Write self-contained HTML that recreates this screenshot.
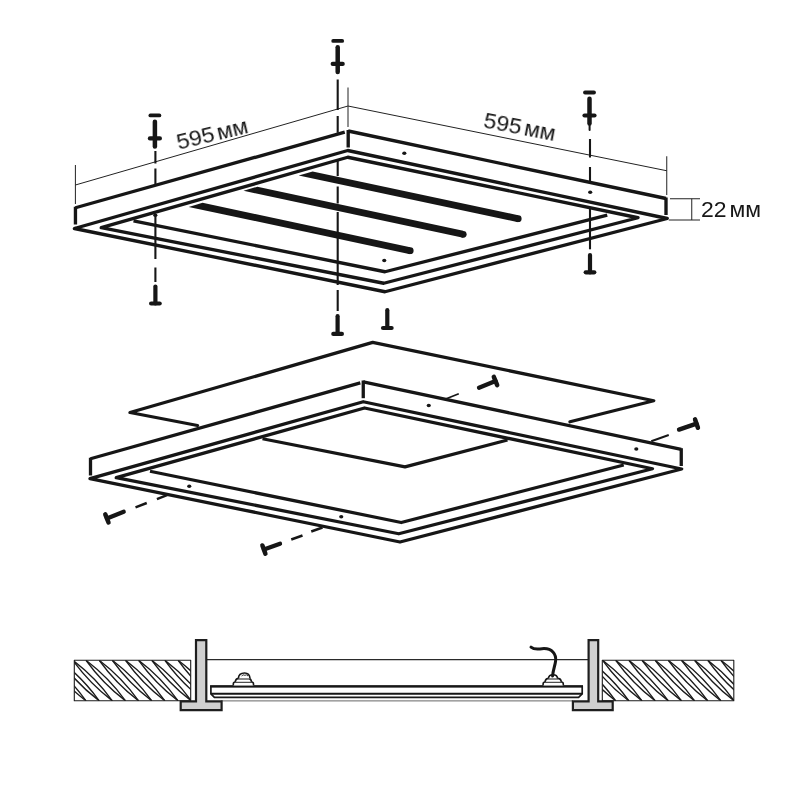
<!DOCTYPE html>
<html><head><meta charset="utf-8"><title>Panel mounting diagram</title>
<style>html,body{margin:0;padding:0;background:#fff;width:800px;height:800px;overflow:hidden}svg{display:block}</style>
</head><body>
<svg width="800" height="800" viewBox="0 0 800 800">
<rect width="800" height="800" fill="#fff"/>
<line x1="75.4" y1="165" x2="75.4" y2="204" stroke="#222" stroke-width="1.0" stroke-linecap="butt" />
<line x1="75.4" y1="185" x2="348" y2="106" stroke="#222" stroke-width="1.0" stroke-linecap="butt" />
<line x1="348" y1="87.5" x2="348" y2="127" stroke="#222" stroke-width="1.0" stroke-linecap="butt" />
<line x1="348" y1="106" x2="666.75" y2="170.75" stroke="#222" stroke-width="1.0" stroke-linecap="butt" />
<line x1="666.75" y1="156.25" x2="666.75" y2="195" stroke="#222" stroke-width="1.0" stroke-linecap="butt" />
<line x1="670" y1="198.75" x2="700" y2="198.75" stroke="#222" stroke-width="1.0" stroke-linecap="butt" />
<line x1="668.75" y1="220" x2="700" y2="220" stroke="#222" stroke-width="1.0" stroke-linecap="butt" />
<line x1="691.75" y1="198.75" x2="691.75" y2="220" stroke="#222" stroke-width="1.0" stroke-linecap="butt" />
<path d="M75.45,207.75 L344.75,132.2" fill="none" stroke="#161616" stroke-width="3.35" stroke-linejoin="round" stroke-linecap="butt" />
<path d="M75.45,206.75 L75.45,224.5" fill="none" stroke="#161616" stroke-width="3.35" stroke-linejoin="round" stroke-linecap="butt" />
<path d="M348.2,130 L348.2,147.5" fill="none" stroke="#161616" stroke-width="3.35" stroke-linejoin="round" stroke-linecap="butt" />
<path d="M348.2,131 L666,198.5" fill="none" stroke="#161616" stroke-width="3.35" stroke-linejoin="round" stroke-linecap="butt" />
<path d="M666,197.5 L666,215" fill="none" stroke="#161616" stroke-width="3.35" stroke-linejoin="round" stroke-linecap="butt" />
<path d="M74.4,228.5 L347.75,150.5 L667.25,218.5 L385,291.75 Z" fill="none" stroke="#161616" stroke-width="3.35" stroke-linejoin="round" stroke-linecap="butt" />
<path d="M101.25,227.7 L347.75,157.25 L638,217.75 L383.75,283.25 Z" fill="none" stroke="#161616" stroke-width="3.35" stroke-linejoin="round" stroke-linecap="butt" />
<path d="M133.5,220.8 L385,271.75 L607.25,215.2" fill="none" stroke="#161616" stroke-width="3.35" stroke-linejoin="round" stroke-linecap="butt" />
<path d="M298.70,175.60 L312.64,171.56 L518.20,215.19 L518.20,222.19 Z" fill="#161616"/>
<circle cx="518.20" cy="218.69" r="3.42" fill="#161616"/>
<path d="M243.50,190.70 L257.38,186.68 L463.20,230.80 L463.20,237.80 Z" fill="#161616"/>
<circle cx="463.20" cy="234.30" r="3.42" fill="#161616"/>
<path d="M188.70,206.90 L202.60,202.87 L410.20,247.20 L410.20,254.20 Z" fill="#161616"/>
<circle cx="410.20" cy="250.70" r="3.42" fill="#161616"/>
<ellipse cx="404.3" cy="153.2" rx="2.1" ry="1.75" fill="#161616"/>
<ellipse cx="590.2" cy="192.3" rx="2.1" ry="1.75" fill="#161616"/>
<ellipse cx="384.25" cy="260.5" rx="2.1" ry="1.75" fill="#161616"/>
<ellipse cx="155.3" cy="215.2" rx="2.1" ry="1.75" fill="#161616"/>
<line x1="155.4" y1="151" x2="155.4" y2="163.5" stroke="#161616" stroke-width="2.1" stroke-linecap="butt" />
<line x1="155.4" y1="168.5" x2="155.4" y2="185.5" stroke="#161616" stroke-width="2.1" stroke-linecap="butt" />
<line x1="155.4" y1="216" x2="155.4" y2="259" stroke="#161616" stroke-width="2.1" stroke-linecap="butt" />
<line x1="155.4" y1="267.5" x2="155.4" y2="282" stroke="#161616" stroke-width="2.1" stroke-linecap="butt" />
<line x1="337.7" y1="79.5" x2="337.7" y2="110" stroke="#161616" stroke-width="2.1" stroke-linecap="butt" />
<line x1="337.7" y1="116" x2="337.7" y2="132.8" stroke="#161616" stroke-width="2.1" stroke-linecap="butt" />
<line x1="337.7" y1="161" x2="337.7" y2="176" stroke="#161616" stroke-width="2.1" stroke-linecap="butt" />
<line x1="337.7" y1="186.5" x2="337.7" y2="203.5" stroke="#161616" stroke-width="2.1" stroke-linecap="butt" />
<line x1="337.7" y1="212" x2="337.7" y2="285" stroke="#161616" stroke-width="2.1" stroke-linecap="butt" />
<line x1="337.7" y1="290" x2="337.7" y2="311" stroke="#161616" stroke-width="2.1" stroke-linecap="butt" />
<line x1="590" y1="139" x2="590" y2="157.5" stroke="#161616" stroke-width="2.1" stroke-linecap="butt" />
<line x1="590" y1="167" x2="590" y2="182.4" stroke="#161616" stroke-width="2.1" stroke-linecap="butt" />
<line x1="590" y1="207.5" x2="590" y2="249.3" stroke="#161616" stroke-width="2.1" stroke-linecap="butt" />
<line x1="333.2" y1="40.9" x2="342.2" y2="40.9" stroke="#161616" stroke-width="3.8" stroke-linecap="round" />
<line x1="337.7" y1="47.199999999999996" x2="337.7" y2="71.9" stroke="#161616" stroke-width="4.5" stroke-linecap="round" />
<line x1="332.7" y1="63.9" x2="342.7" y2="63.9" stroke="#161616" stroke-width="4.2" stroke-linecap="round" />
<line x1="150.4" y1="115.4" x2="159.4" y2="115.4" stroke="#161616" stroke-width="3.8" stroke-linecap="round" />
<line x1="154.9" y1="121.7" x2="154.9" y2="146.4" stroke="#161616" stroke-width="4.5" stroke-linecap="round" />
<line x1="149.9" y1="138.4" x2="159.9" y2="138.4" stroke="#161616" stroke-width="4.2" stroke-linecap="round" />
<line x1="585.0" y1="92.5" x2="594.0" y2="92.5" stroke="#161616" stroke-width="3.8" stroke-linecap="round" />
<line x1="589.5" y1="98.8" x2="589.5" y2="123.5" stroke="#161616" stroke-width="4.5" stroke-linecap="round" />
<line x1="584.5" y1="115.5" x2="594.5" y2="115.5" stroke="#161616" stroke-width="4.2" stroke-linecap="round" />
<line x1="589.6" y1="124" x2="589.6" y2="130" stroke="#161616" stroke-width="2.0" stroke-linecap="round" />
<line x1="337.6" y1="316.2" x2="337.6" y2="333.9" stroke="#161616" stroke-width="4.2" stroke-linecap="round" />
<line x1="333.3" y1="333.9" x2="341.90000000000003" y2="333.9" stroke="#161616" stroke-width="4.2" stroke-linecap="round" />
<line x1="387.3" y1="310.2" x2="387.3" y2="328" stroke="#161616" stroke-width="4.2" stroke-linecap="round" />
<line x1="383.0" y1="328" x2="391.6" y2="328" stroke="#161616" stroke-width="4.2" stroke-linecap="round" />
<line x1="155.4" y1="286.5" x2="155.4" y2="303.5" stroke="#161616" stroke-width="4.2" stroke-linecap="round" />
<line x1="151.1" y1="303.5" x2="159.70000000000002" y2="303.5" stroke="#161616" stroke-width="4.2" stroke-linecap="round" />
<line x1="590" y1="255" x2="590" y2="272.3" stroke="#161616" stroke-width="4.2" stroke-linecap="round" />
<line x1="585.7" y1="272.3" x2="594.3" y2="272.3" stroke="#161616" stroke-width="4.2" stroke-linecap="round" />
<path d="M197.5,425.5 L130,412.5 L372.7,342.4 L653.75,400.75 L570,421.75" fill="none" stroke="#161616" stroke-width="3.3" stroke-linejoin="round" stroke-linecap="round" />
<path d="M262.5,438.75 L405,466.9 L507.5,440" fill="none" stroke="#161616" stroke-width="3.3" stroke-linejoin="round" stroke-linecap="butt" />
<path d="M90.5,458.75 L360.3,382.9" fill="none" stroke="#161616" stroke-width="3.3" stroke-linejoin="round" stroke-linecap="butt" />
<path d="M90.5,457.75 L90.5,475.5" fill="none" stroke="#161616" stroke-width="3.3" stroke-linejoin="round" stroke-linecap="butt" />
<path d="M363.25,380.5 L363.25,398.2" fill="none" stroke="#161616" stroke-width="3.3" stroke-linejoin="round" stroke-linecap="butt" />
<path d="M363.25,381.8 L681.25,449.4" fill="none" stroke="#161616" stroke-width="3.3" stroke-linejoin="round" stroke-linecap="butt" />
<path d="M681.25,448.2 L681.25,466" fill="none" stroke="#161616" stroke-width="3.3" stroke-linejoin="round" stroke-linecap="butt" />
<path d="M90,478.6 L363.25,401.75 L681.7,469 L400,542 Z" fill="none" stroke="#161616" stroke-width="3.3" stroke-linejoin="round" stroke-linecap="butt" />
<path d="M116.25,477.7 L364.5,408 L652.5,468.75 L398.75,533.75 Z" fill="none" stroke="#161616" stroke-width="3.3" stroke-linejoin="round" stroke-linecap="butt" />
<path d="M150,471.25 L401.25,522.5 L623.75,465" fill="none" stroke="#161616" stroke-width="3.3" stroke-linejoin="round" stroke-linecap="butt" />
<ellipse cx="189.25" cy="486.25" rx="2.1" ry="1.75" fill="#161616"/>
<ellipse cx="341.25" cy="516.75" rx="2.1" ry="1.75" fill="#161616"/>
<ellipse cx="428.75" cy="405.5" rx="2.1" ry="1.75" fill="#161616"/>
<ellipse cx="636.3" cy="449" rx="2.1" ry="1.75" fill="#161616"/>
<line x1="106.9" y1="518.4" x2="123.7" y2="511.8" stroke="#161616" stroke-width="4.3" stroke-linecap="round" />
<line x1="105.29112956133883" y1="514.3046934288625" x2="108.50887043866118" y2="522.4953065711375" stroke="#161616" stroke-width="4.5" stroke-linecap="round" />
<line x1="135.5" y1="507.3" x2="146.75" y2="503" stroke="#161616" stroke-width="2.5" stroke-linecap="butt" />
<line x1="156.9" y1="499.1" x2="167" y2="495.1" stroke="#161616" stroke-width="2.5" stroke-linecap="butt" />
<line x1="263.9" y1="549.6" x2="280" y2="543.8" stroke="#161616" stroke-width="4.3" stroke-linecap="round" />
<line x1="262.40872390620916" y1="545.4604232568911" x2="265.3912760937908" y2="553.739576743109" stroke="#161616" stroke-width="4.5" stroke-linecap="round" />
<line x1="291.25" y1="539.5" x2="302.5" y2="535.5" stroke="#161616" stroke-width="2.5" stroke-linecap="butt" />
<line x1="311.25" y1="531.5" x2="322.5" y2="527.5" stroke="#161616" stroke-width="2.5" stroke-linecap="butt" />
<line x1="495.5" y1="381" x2="479" y2="387.8" stroke="#161616" stroke-width="4.3" stroke-linecap="round" />
<line x1="497.176539109026" y1="385.0680728380778" x2="493.823460890974" y2="376.9319271619222" stroke="#161616" stroke-width="4.5" stroke-linecap="round" />
<line x1="446.25" y1="398.75" x2="458.75" y2="393.75" stroke="#161616" stroke-width="1.7" stroke-linecap="butt" />
<line x1="696.5" y1="423.6" x2="679" y2="429.6" stroke="#161616" stroke-width="4.3" stroke-linecap="round" />
<line x1="697.9270270270271" y1="427.7621621621622" x2="695.0729729729729" y2="419.43783783783783" stroke="#161616" stroke-width="4.5" stroke-linecap="round" />
<line x1="651.25" y1="441.25" x2="668.75" y2="435" stroke="#161616" stroke-width="1.9" stroke-linecap="butt" />
<g opacity="0.995">
<text x="0" y="0" font-family="Liberation Sans, sans-serif" font-size="21.5" fill="#161616" word-spacing="-3.2" transform="translate(178.6 149.8) rotate(-13.6) scale(1.07 1)">595 мм</text>
<text x="0" y="0" font-family="Liberation Sans, sans-serif" font-size="21.5" fill="#161616" word-spacing="-3.2" transform="translate(482.6 127.3) rotate(10.9) scale(1.07 1)">595 мм</text>
<text x="0" y="0" font-family="Liberation Sans, sans-serif" font-size="21.5" fill="#161616" word-spacing="-3.2" transform="translate(700.9 217.1) rotate(0) scale(1.07 1)">22 мм</text>
</g>
<line x1="206" y1="659.7" x2="589" y2="659.7" stroke="#2a2a2a" stroke-width="1.3" stroke-linecap="butt" />
<line x1="221" y1="700.9" x2="573" y2="700.9" stroke="#666" stroke-width="1.0" stroke-linecap="butt" />
<clipPath id="cL"><rect x="74.3" y="660.3" width="116.39999999999999" height="40.5"/></clipPath>
<g clip-path="url(#cL)">
<path d="M7.1,660.3 Q29.8,677.6 46.5,700.8" fill="none" stroke="#1c1c1c" stroke-width="1.4" stroke-linejoin="round" stroke-linecap="butt" />
<path d="M7.1,660.3 Q23.8,683.5 46.5,700.8" fill="none" stroke="#1c1c1c" stroke-width="1.4" stroke-linejoin="round" stroke-linecap="butt" />
<path d="M20.2,660.3 Q43.0,677.6 59.7,700.8" fill="none" stroke="#1c1c1c" stroke-width="1.4" stroke-linejoin="round" stroke-linecap="butt" />
<path d="M20.2,660.3 Q37.0,683.5 59.7,700.8" fill="none" stroke="#1c1c1c" stroke-width="1.4" stroke-linejoin="round" stroke-linecap="butt" />
<path d="M33.4,660.3 Q56.1,677.6 72.8,700.8" fill="none" stroke="#1c1c1c" stroke-width="1.4" stroke-linejoin="round" stroke-linecap="butt" />
<path d="M33.4,660.3 Q50.1,683.5 72.8,700.8" fill="none" stroke="#1c1c1c" stroke-width="1.4" stroke-linejoin="round" stroke-linecap="butt" />
<path d="M46.5,660.3 Q69.3,677.6 86.0,700.8" fill="none" stroke="#1c1c1c" stroke-width="1.4" stroke-linejoin="round" stroke-linecap="butt" />
<path d="M46.5,660.3 Q63.3,683.5 86.0,700.8" fill="none" stroke="#1c1c1c" stroke-width="1.4" stroke-linejoin="round" stroke-linecap="butt" />
<path d="M59.7,660.3 Q82.4,677.6 99.2,700.8" fill="none" stroke="#1c1c1c" stroke-width="1.4" stroke-linejoin="round" stroke-linecap="butt" />
<path d="M59.7,660.3 Q76.4,683.5 99.2,700.8" fill="none" stroke="#1c1c1c" stroke-width="1.4" stroke-linejoin="round" stroke-linecap="butt" />
<path d="M72.8,660.3 Q95.6,677.6 112.3,700.8" fill="none" stroke="#1c1c1c" stroke-width="1.4" stroke-linejoin="round" stroke-linecap="butt" />
<path d="M72.8,660.3 Q89.6,683.5 112.3,700.8" fill="none" stroke="#1c1c1c" stroke-width="1.4" stroke-linejoin="round" stroke-linecap="butt" />
<path d="M86.0,660.3 Q108.7,677.6 125.5,700.8" fill="none" stroke="#1c1c1c" stroke-width="1.4" stroke-linejoin="round" stroke-linecap="butt" />
<path d="M86.0,660.3 Q102.7,683.5 125.5,700.8" fill="none" stroke="#1c1c1c" stroke-width="1.4" stroke-linejoin="round" stroke-linecap="butt" />
<path d="M99.2,660.3 Q121.9,677.6 138.6,700.8" fill="none" stroke="#1c1c1c" stroke-width="1.4" stroke-linejoin="round" stroke-linecap="butt" />
<path d="M99.2,660.3 Q115.9,683.5 138.6,700.8" fill="none" stroke="#1c1c1c" stroke-width="1.4" stroke-linejoin="round" stroke-linecap="butt" />
<path d="M112.3,660.3 Q135.0,677.6 151.8,700.8" fill="none" stroke="#1c1c1c" stroke-width="1.4" stroke-linejoin="round" stroke-linecap="butt" />
<path d="M112.3,660.3 Q129.0,683.5 151.8,700.8" fill="none" stroke="#1c1c1c" stroke-width="1.4" stroke-linejoin="round" stroke-linecap="butt" />
<path d="M125.5,660.3 Q148.2,677.6 164.9,700.8" fill="none" stroke="#1c1c1c" stroke-width="1.4" stroke-linejoin="round" stroke-linecap="butt" />
<path d="M125.5,660.3 Q142.2,683.5 164.9,700.8" fill="none" stroke="#1c1c1c" stroke-width="1.4" stroke-linejoin="round" stroke-linecap="butt" />
<path d="M138.6,660.3 Q161.3,677.6 178.1,700.8" fill="none" stroke="#1c1c1c" stroke-width="1.4" stroke-linejoin="round" stroke-linecap="butt" />
<path d="M138.6,660.3 Q155.3,683.5 178.1,700.8" fill="none" stroke="#1c1c1c" stroke-width="1.4" stroke-linejoin="round" stroke-linecap="butt" />
<path d="M151.8,660.3 Q174.5,677.6 191.2,700.8" fill="none" stroke="#1c1c1c" stroke-width="1.4" stroke-linejoin="round" stroke-linecap="butt" />
<path d="M151.8,660.3 Q168.5,683.5 191.2,700.8" fill="none" stroke="#1c1c1c" stroke-width="1.4" stroke-linejoin="round" stroke-linecap="butt" />
<path d="M164.9,660.3 Q187.6,677.6 204.4,700.8" fill="none" stroke="#1c1c1c" stroke-width="1.4" stroke-linejoin="round" stroke-linecap="butt" />
<path d="M164.9,660.3 Q181.6,683.5 204.4,700.8" fill="none" stroke="#1c1c1c" stroke-width="1.4" stroke-linejoin="round" stroke-linecap="butt" />
<path d="M178.1,660.3 Q200.8,677.6 217.5,700.8" fill="none" stroke="#1c1c1c" stroke-width="1.4" stroke-linejoin="round" stroke-linecap="butt" />
<path d="M178.1,660.3 Q194.8,683.5 217.5,700.8" fill="none" stroke="#1c1c1c" stroke-width="1.4" stroke-linejoin="round" stroke-linecap="butt" />
<path d="M191.2,660.3 Q213.9,677.6 230.7,700.8" fill="none" stroke="#1c1c1c" stroke-width="1.4" stroke-linejoin="round" stroke-linecap="butt" />
<path d="M191.2,660.3 Q207.9,683.5 230.7,700.8" fill="none" stroke="#1c1c1c" stroke-width="1.4" stroke-linejoin="round" stroke-linecap="butt" />
</g>
<path d="M74.3,660.3 L190.7,660.3 L190.7,700.8 L74.3,700.8 Z" fill="none" stroke="#1c1c1c" stroke-width="1.1" stroke-linejoin="round" stroke-linecap="butt" />
<clipPath id="cR"><rect x="602.3" y="660.3" width="131.5" height="40.5"/></clipPath>
<g clip-path="url(#cR)">
<path d="M536.8,660.3 Q559.6,677.6 576.3,700.8" fill="none" stroke="#1c1c1c" stroke-width="1.4" stroke-linejoin="round" stroke-linecap="butt" />
<path d="M536.8,660.3 Q553.6,683.5 576.3,700.8" fill="none" stroke="#1c1c1c" stroke-width="1.4" stroke-linejoin="round" stroke-linecap="butt" />
<path d="M550.0,660.3 Q572.7,677.6 589.4,700.8" fill="none" stroke="#1c1c1c" stroke-width="1.4" stroke-linejoin="round" stroke-linecap="butt" />
<path d="M550.0,660.3 Q566.7,683.5 589.4,700.8" fill="none" stroke="#1c1c1c" stroke-width="1.4" stroke-linejoin="round" stroke-linecap="butt" />
<path d="M563.1,660.3 Q585.9,677.6 602.6,700.8" fill="none" stroke="#1c1c1c" stroke-width="1.4" stroke-linejoin="round" stroke-linecap="butt" />
<path d="M563.1,660.3 Q579.9,683.5 602.6,700.8" fill="none" stroke="#1c1c1c" stroke-width="1.4" stroke-linejoin="round" stroke-linecap="butt" />
<path d="M576.3,660.3 Q599.0,677.6 615.7,700.8" fill="none" stroke="#1c1c1c" stroke-width="1.4" stroke-linejoin="round" stroke-linecap="butt" />
<path d="M576.3,660.3 Q593.0,683.5 615.7,700.8" fill="none" stroke="#1c1c1c" stroke-width="1.4" stroke-linejoin="round" stroke-linecap="butt" />
<path d="M589.4,660.3 Q612.2,677.6 628.9,700.8" fill="none" stroke="#1c1c1c" stroke-width="1.4" stroke-linejoin="round" stroke-linecap="butt" />
<path d="M589.4,660.3 Q606.2,683.5 628.9,700.8" fill="none" stroke="#1c1c1c" stroke-width="1.4" stroke-linejoin="round" stroke-linecap="butt" />
<path d="M602.6,660.3 Q625.3,677.6 642.0,700.8" fill="none" stroke="#1c1c1c" stroke-width="1.4" stroke-linejoin="round" stroke-linecap="butt" />
<path d="M602.6,660.3 Q619.3,683.5 642.0,700.8" fill="none" stroke="#1c1c1c" stroke-width="1.4" stroke-linejoin="round" stroke-linecap="butt" />
<path d="M615.7,660.3 Q638.5,677.6 655.2,700.8" fill="none" stroke="#1c1c1c" stroke-width="1.4" stroke-linejoin="round" stroke-linecap="butt" />
<path d="M615.7,660.3 Q632.5,683.5 655.2,700.8" fill="none" stroke="#1c1c1c" stroke-width="1.4" stroke-linejoin="round" stroke-linecap="butt" />
<path d="M628.9,660.3 Q651.6,677.6 668.3,700.8" fill="none" stroke="#1c1c1c" stroke-width="1.4" stroke-linejoin="round" stroke-linecap="butt" />
<path d="M628.9,660.3 Q645.6,683.5 668.3,700.8" fill="none" stroke="#1c1c1c" stroke-width="1.4" stroke-linejoin="round" stroke-linecap="butt" />
<path d="M642.0,660.3 Q664.8,677.6 681.5,700.8" fill="none" stroke="#1c1c1c" stroke-width="1.4" stroke-linejoin="round" stroke-linecap="butt" />
<path d="M642.0,660.3 Q658.8,683.5 681.5,700.8" fill="none" stroke="#1c1c1c" stroke-width="1.4" stroke-linejoin="round" stroke-linecap="butt" />
<path d="M655.2,660.3 Q677.9,677.6 694.6,700.8" fill="none" stroke="#1c1c1c" stroke-width="1.4" stroke-linejoin="round" stroke-linecap="butt" />
<path d="M655.2,660.3 Q671.9,683.5 694.6,700.8" fill="none" stroke="#1c1c1c" stroke-width="1.4" stroke-linejoin="round" stroke-linecap="butt" />
<path d="M668.3,660.3 Q691.1,677.6 707.8,700.8" fill="none" stroke="#1c1c1c" stroke-width="1.4" stroke-linejoin="round" stroke-linecap="butt" />
<path d="M668.3,660.3 Q685.1,683.5 707.8,700.8" fill="none" stroke="#1c1c1c" stroke-width="1.4" stroke-linejoin="round" stroke-linecap="butt" />
<path d="M681.5,660.3 Q704.2,677.6 720.9,700.8" fill="none" stroke="#1c1c1c" stroke-width="1.4" stroke-linejoin="round" stroke-linecap="butt" />
<path d="M681.5,660.3 Q698.2,683.5 720.9,700.8" fill="none" stroke="#1c1c1c" stroke-width="1.4" stroke-linejoin="round" stroke-linecap="butt" />
<path d="M694.6,660.3 Q717.4,677.6 734.1,700.8" fill="none" stroke="#1c1c1c" stroke-width="1.4" stroke-linejoin="round" stroke-linecap="butt" />
<path d="M694.6,660.3 Q711.4,683.5 734.1,700.8" fill="none" stroke="#1c1c1c" stroke-width="1.4" stroke-linejoin="round" stroke-linecap="butt" />
<path d="M707.8,660.3 Q730.5,677.6 747.2,700.8" fill="none" stroke="#1c1c1c" stroke-width="1.4" stroke-linejoin="round" stroke-linecap="butt" />
<path d="M707.8,660.3 Q724.5,683.5 747.2,700.8" fill="none" stroke="#1c1c1c" stroke-width="1.4" stroke-linejoin="round" stroke-linecap="butt" />
<path d="M720.9,660.3 Q743.7,677.6 760.4,700.8" fill="none" stroke="#1c1c1c" stroke-width="1.4" stroke-linejoin="round" stroke-linecap="butt" />
<path d="M720.9,660.3 Q737.7,683.5 760.4,700.8" fill="none" stroke="#1c1c1c" stroke-width="1.4" stroke-linejoin="round" stroke-linecap="butt" />
<path d="M734.1,660.3 Q756.8,677.6 773.5,700.8" fill="none" stroke="#1c1c1c" stroke-width="1.4" stroke-linejoin="round" stroke-linecap="butt" />
<path d="M734.1,660.3 Q750.8,683.5 773.5,700.8" fill="none" stroke="#1c1c1c" stroke-width="1.4" stroke-linejoin="round" stroke-linecap="butt" />
</g>
<path d="M602.3,660.3 L733.8,660.3 L733.8,700.8 L602.3,700.8 Z" fill="none" stroke="#1c1c1c" stroke-width="1.1" stroke-linejoin="round" stroke-linecap="butt" />
<path d="M196,640.2 L206.3,640.2 L206.3,701.3 L221.6,701.3 L221.6,710.1 L180.7,710.1 L180.7,701.3 L196,701.3 Z" fill="#d0d0d0" stroke="#1e1e1e" stroke-width="2.2" stroke-linejoin="miter" stroke-linecap="butt" />
<path d="M588.6,640.2 L598.2,640.2 L598.2,701.3 L612.7,701.3 L612.7,710.1 L572.9,710.1 L572.9,701.3 L588.6,701.3 Z" fill="#d0d0d0" stroke="#1e1e1e" stroke-width="2.2" stroke-linejoin="miter" stroke-linecap="butt" />
<path d="M210.9,686.4 L582.2,686.4 L582.2,693.8 L578.6,697.4 L214.4,697.4 L210.9,693.8 Z" fill="#fff" stroke="#1a1a1a" stroke-width="1.7" stroke-linejoin="miter" stroke-linecap="butt" />
<line x1="210.1" y1="686.4" x2="583.0" y2="686.4" stroke="#161616" stroke-width="2.2" stroke-linecap="butt" />
<line x1="210.9" y1="693.8" x2="582.2" y2="693.8" stroke="#161616" stroke-width="2.0" stroke-linecap="butt" />
<path d="M233.3,685.6 L233.3,684 Q233.3,682 235.4,682 L251.4,682 Q253.5,682 253.5,684 L253.5,685.6" fill="#fff" stroke="#161616" stroke-width="1.6" stroke-linejoin="round" stroke-linecap="butt" />
<path d="M235.20000000000002,681.8 Q235.8,678.6 237.8,678.6 L249.0,678.6 Q251.0,678.6 251.6,681.8" fill="#fff" stroke="#161616" stroke-width="1.6" stroke-linejoin="round" stroke-linecap="butt" />
<path d="M238.4,678.4 Q238.6,673 244.6,673 Q249.6,673 250,678.4" fill="#fff" stroke="#161616" stroke-width="1.6" stroke-linejoin="round" stroke-linecap="butt" />
<path d="M241.6,676 Q243,674 244.9,675.3 Q246.5,674 248,676" fill="none" stroke="#161616" stroke-width="0.9" stroke-linejoin="round" stroke-linecap="butt" />
<path d="M543.1,685.6 L543.1,684 Q543.1,682 545.2,682 L561.2,682 Q563.3000000000001,682 563.3000000000001,684 L563.3000000000001,685.6" fill="#fff" stroke="#161616" stroke-width="1.6" stroke-linejoin="round" stroke-linecap="butt" />
<path d="M545.0,681.8 Q545.6,678.6 547.6,678.6 L558.8000000000001,678.6 Q560.8000000000001,678.6 561.4000000000001,681.8" fill="#fff" stroke="#161616" stroke-width="1.6" stroke-linejoin="round" stroke-linecap="butt" />
<path d="M548.4,678.4 Q548.8,674.8 553,674.8 Q557.2,674.8 557.6,678.4" fill="#fff" stroke="#161616" stroke-width="1.6" stroke-linejoin="round" stroke-linecap="butt" />
<path d="M531,647.2 C535,650.5 539,648.6 544,648.6 C552,648.6 556.5,654 555.6,661 C555,666 553,670 552.6,676" fill="none" stroke="#161616" stroke-width="3.0" stroke-linejoin="round" stroke-linecap="round" />
</svg>
</body></html>
